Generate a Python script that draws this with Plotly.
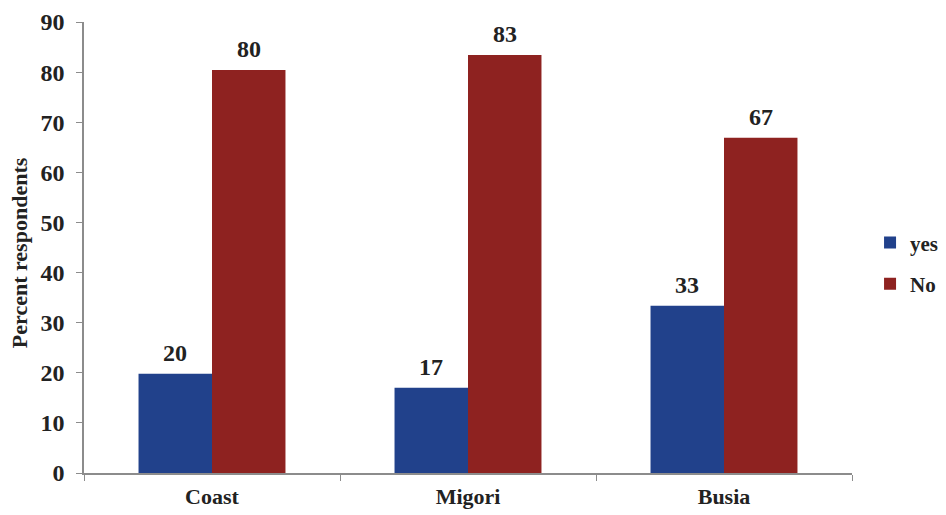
import plotly.graph_objects as go

categories = ["Coast", "Migori", "Busia"]
yes_values = [19.8, 17.0, 33.4]
no_values = [80.4, 83.4, 66.9]
yes_labels = ["20", "17", "33"]
no_labels = ["80", "83", "67"]
y_ticks = [0, 10, 20, 30, 40, 50, 60, 70, 80, 90]

FONT = "Liberation Serif"
BLUE = "#21418B"
RED = "#8E2220"
TXT = "#222222"

fig = go.Figure()
fig.add_trace(go.Bar(name="<b>yes</b>", x=categories, y=yes_values, legendgroup="a",
                     marker=dict(color=BLUE, line=dict(width=0))))
fig.add_trace(go.Bar(name="<b>No</b>", x=categories, y=no_values, legendgroup="b",
                     marker=dict(color=RED, line=dict(width=0))))

bar_px = 73.5
for cat, v, lab in zip(categories, yes_values, yes_labels):
    fig.add_annotation(x=cat, y=v, text="<b>%s</b>" % lab, showarrow=False, xshift=-bar_px / 2,
                       yanchor="bottom", yshift=6, font=dict(family=FONT, size=24, color=TXT))
for cat, v, lab in zip(categories, no_values, no_labels):
    fig.add_annotation(x=cat, y=v, text="<b>%s</b>" % lab, showarrow=False, xshift=bar_px / 2,
                       yanchor="bottom", yshift=6, font=dict(family=FONT, size=24, color=TXT))

fig.add_annotation(xref="paper", yref="paper", x=-0.083, y=0.488, xanchor="center", yanchor="middle",
                   text="<b>Percent respondents</b>", textangle=-90, showarrow=False,
                   font=dict(family=FONT, size=22, color=TXT))

# page body has an 8px default margin, so margins are offset to place the plot area
fig.update_layout(
    width=946, height=515,
    margin=dict(l=76, r=102, t=14, b=50, autoexpand=False),
    paper_bgcolor="white", plot_bgcolor="white",
    barmode="group", bargap=0.426, bargroupgap=0,
    font=dict(family=FONT, size=20, color=TXT),
    legend=dict(x=1.0235, y=0.465, xanchor="left", yanchor="middle", traceorder="grouped",
                font=dict(family=FONT, size=21, color=TXT), tracegroupgap=11,
                itemwidth=30),
    showlegend=True,
)
fig.update_xaxes(showline=True, linecolor="#8c8c8c", linewidth=1.5, ticks="outside",
                 tickson="boundaries", ticklen=6, tickcolor="#8c8c8c", showgrid=False,
                 automargin=False, ticklabelstandoff=3,
                 tickfont=dict(family=FONT, size=22, color=TXT),
                 tickvals=categories, ticktext=["<b>%s</b>" % c for c in categories])
fig.update_yaxes(range=[0, 90], tickvals=y_ticks, ticktext=["<b>%d</b>" % t for t in y_ticks],
                 showline=True, linecolor="#8c8c8c", linewidth=1.5, ticks="outside",
                 ticklen=6, tickcolor="#8c8c8c", showgrid=False, zeroline=False,
                 automargin=False, ticklabelstandoff=7,
                 tickfont=dict(family=FONT, size=24, color=TXT))

fig.write_html("out.html")
